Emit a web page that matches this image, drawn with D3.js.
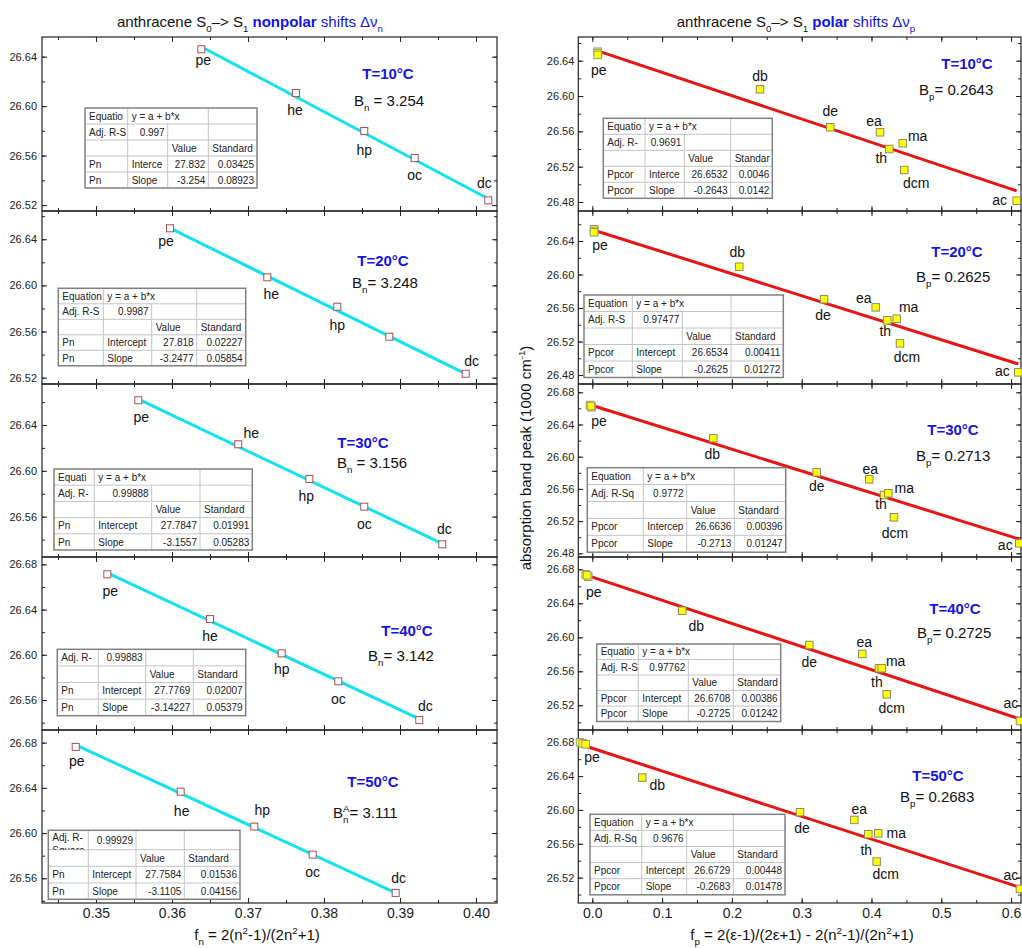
<!DOCTYPE html>
<html>
<head>
<meta charset="utf-8">
<script src="https://cdn.jsdelivr.net/npm/d3@7"></script>
<style>
  body { margin: 0; background: #fff; }
  svg { display: block; }
  text { font-family: "Liberation Sans", Arial, sans-serif; }
</style>
</head>
<body>
<svg id="chart" width="1022" height="948"></svg>
<script>
// ---------- data ----------
const temperatures = ["10", "20", "30", "40", "50"];

// nonpolar solvents (left column)
const nonpolarSolvents = ["pe", "he", "hp", "oc", "dc"];
const fnValues = [
    [0.36386, 0.37632, 0.38530, 0.39193, 0.40162],
    [0.35974, 0.37254, 0.38175, 0.38859, 0.39864],
    [0.35557, 0.36872, 0.37807, 0.38530, 0.39557],
    [0.35149, 0.36500, 0.37443, 0.38188, 0.39254],
    [0.34733, 0.36114, 0.37083, 0.37851, 0.38943]
];
const peakNonpolar = [
    [26.6460, 26.6106, 26.5799, 26.5580, 26.5238],
    [26.6495, 26.6070, 26.5815, 26.5555, 26.5234],
    [26.6616, 26.6232, 26.5929, 26.5687, 26.5359],
    [26.6712, 26.6316, 26.6013, 26.5766, 26.5423],
    [26.6762, 26.6366, 26.6057, 26.5809, 26.5470]
];
const interceptN = [27.832, 27.818, 27.7847, 27.7769, 27.7584];
const slopeN = [-3.254, -3.2477, -3.1557, -3.14227, -3.1105];
const bnText = ["3.254", "3.248", "3.156", "3.142", "3.111"];

// polar solvents (right column)
const polarSolvents = ["db", "de", "ea", "th", "ma", "dcm", "ac"];
const fpValues = [
    [0.2403, 0.3410, 0.4122, 0.4255, 0.4447, 0.4470, 0.6080],
    [0.2106, 0.3320, 0.4060, 0.4226, 0.4361, 0.4408, 0.6103],
    [0.1734, 0.3215, 0.3968, 0.4179, 0.4241, 0.4322, 0.6117],
    [0.1289, 0.3109, 0.3868, 0.4107, 0.4146, 0.4218, 0.6127],
    [0.0716, 0.2976, 0.3754, 0.3954, 0.4097, 0.4074, 0.6127]
];
const peakPolar = [
    [26.6076, 26.5646, 26.5589, 26.5400, 26.5465, 26.5162, 26.4814],
    [26.6093, 26.5704, 26.5608, 26.5453, 26.5472, 26.5178, 26.4832],
    [26.6229, 26.5806, 26.5719, 26.5524, 26.5545, 26.5247, 26.4924],
    [26.6313, 26.5909, 26.5804, 26.5635, 26.5635, 26.5329, 26.5015],
    [26.6382, 26.5973, 26.5882, 26.5713, 26.5724, 26.5389, 26.5066]
];
// nonpolar solvents collapse near fp = 0 (the "pe" cluster)
const fpCluster = [
    [0.0077, 0.0082, 0.0077],
    [0.0024, 0.0030, 0.0024],
    [-0.0033, -0.0009, -0.0020],
    [-0.0095, -0.0057, -0.0075],
    [-0.0176, -0.0138, -0.0095]
];
const peakCluster = [
    [26.6502, 26.6485, 26.6465],
    [26.6540, 26.6520, 26.6504],
    [26.6642, 26.6614, 26.6630],
    [26.6741, 26.6713, 26.6730],
    [26.6800, 26.6788, 26.6776]
];
const interceptP = [26.6532, 26.6534, 26.6636, 26.6708, 26.6729];
const slopeP = [-0.2643, -0.2625, -0.2713, -0.2725, -0.2683];
const bpText = ["0.2643", "0.2625", "0.2713", "0.2725", "0.2683"];

// fit report tables (null = merged with the cell on its left)
const tablesN = [
    [["Equatio", "y = a + b*x", null, ""], ["Adj. R-S", "0.997", "", ""], ["", "", "Value", "Standard"], ["Pn", "Interce", "27.832", "0.03425"], ["Pn", "Slope", "-3.254", "0.08923"]],
    [["Equation", "y = a + b*x", null, ""], ["Adj. R-S", "0.9987", "", ""], ["", "", "Value", "Standard"], ["Pn", "Intercept", "27.818", "0.02227"], ["Pn", "Slope", "-3.2477", "0.05854"]],
    [["Equati", "y = a + b*x", null, ""], ["Adj. R-", "0.99888", "", ""], ["", "", "Value", "Standard"], ["Pn", "Intercept", "27.7847", "0.01991"], ["Pn", "Slope", "-3.1557", "0.05283"]],
    [["Adj. R-", "0.99883", "", ""], ["", "", "Value", "Standard"], ["Pn", "Intercept", "27.7769", "0.02007"], ["Pn", "Slope", "-3.14227", "0.05379"]],
    [["Adj. R-\nSquare", "0.99929", "", ""], ["", "", "Value", "Standard"], ["Pn", "Intercept", "27.7584", "0.01536"], ["Pn", "Slope", "-3.1105", "0.04156"]]
];
const tablesP = [
    [["Equatio", "y = a + b*x", null, ""], ["Adj. R-", "0.9691", "", ""], ["", "", "Value", "Standar"], ["Ppcor", "Interce", "26.6532", "0.0046"], ["Ppcor", "Slope", "-0.2643", "0.0142"]],
    [["Equation", "y = a + b*x", null, ""], ["Adj. R-S", "0.97477", "", ""], ["", "", "Value", "Standard"], ["Ppcor", "Intercept", "26.6534", "0.00411"], ["Ppcor", "Slope", "-0.2625", "0.01272"]],
    [["Equation", "y = a + b*x", null, ""], ["Adj. R-Sq", "0.9772", "", ""], ["", "", "Value", "Standard"], ["Ppcor", "Intercep", "26.6636", "0.00396"], ["Ppcor", "Slope", "-0.2713", "0.01247"]],
    [["Equatio", "y = a + b*x", null, ""], ["Adj. R-S", "0.97762", "", ""], ["", "", "Value", "Standard"], ["Ppcor", "Intercept", "26.6708", "0.00386"], ["Ppcor", "Slope", "-0.2725", "0.01242"]],
    [["Equation", "y = a + b*x", null, ""], ["Adj. R-Sq", "0.9676", "", ""], ["", "", "Value", "Standard"], ["Ppcor", "Intercept", "26.6729", "0.00448"], ["Ppcor", "Slope", "-0.2683", "0.01478"]]
];

// axis ranges
const xDomainN = [0.342895, 0.402763];
const xDomainP = [-0.02006, 0.6142];
const yDomainN = [[26.5152, 26.6559], [26.5145, 26.6645], [26.5248, 26.6758], [26.5335, 26.6865], [26.5381, 26.6912]];
const yDomainP = [[26.4698, 26.6668], [26.4693, 26.6758], [26.4754, 26.6903], [26.4909, 26.6945], [26.4900, 26.6945]];

// ---------- layout ----------
const rowTop = [37, 211, 384, 557, 730];
const rowBottom = [211, 384, 557, 730, 903];
const blue = "#1414e6";

const labelOffN = [
    [[2, 16], [-1, 22], [0, 24], [0, 22], [-4, -12]],
    [[-4, 18], [4, 22], [0, 23], null, [6, -8]],
    [[3, 22], [13, -6], [-3, 22], [0, 22], [2, -10]],
    [[3, 22], [0, 22], [0, 21], [0, 23], [6, -9]],
    [[1, 19], [1, 24], [8, -12], [0, 22], [3, -10]]
];
const labelOffP = [
    [[0, -8], [0, -11], [-6, -6], [-8, 14], [15, -2], [12, 18], [-17, 4]],
    [[-2, -10], [-1, 21], [-12, -4], [-2, 16], [12, -7], [7, 19], [-16, 4]],
    [[-1, 21], [0, 19], [1, -5], [-3, 14], [16, 0], [1, 21], [-14, 7]],
    [[14, 20], [0, 22], [2, -7], [-2, 19], [14, -2], [5, 19], [-9, -13]],
    [[15, 12], [2, 21], [5, -6], [-2, 21], [18, 5], [9, 17], [-9, -9]]
];
const peLabelOff = [[1, 23], [6, 21], [9, 21], [8, 23], [12, 20]];

const annotN = [
    {tx: 388, ty: 79, bx: 354, by: 106}, {tx: 383, ty: 266, bx: 352, by: 288},
    {tx: 363, ty: 448, bx: 337, by: 468}, {tx: 407, ty: 636, bx: 368, by: 661},
    {tx: 373, ty: 787, bx: 333, by: 818}
];
const annotP = [
    {tx: 967, ty: 69, bx: 919, by: 95}, {tx: 957, ty: 257, bx: 916, by: 282},
    {tx: 953, ty: 435, bx: 916, by: 461}, {tx: 955, ty: 614, bx: 917, by: 638},
    {tx: 938, ty: 781, bx: 900, by: 802}
];

const tableBoxN = [
    {x: 85, y: 108, w: [42.7, 40, 40.6, 48.7], h: 16},
    {x: 58.3, y: 288.3, w: [45, 48.4, 45, 49], h: 15.5},
    {x: 54, y: 469, w: [40.3, 57.4, 48.3, 52.3], h: 16.2},
    {x: 57.3, y: 649.3, w: [41, 47.4, 47.6, 52.4], h: 16.6},
    {x: 48.3, y: 830.3, w: [40, 47.7, 48.3, 55.7], h: [19.4, 16.6, 16.7, 16.3]}
];
const tableBoxP = [
    {x: 603.3, y: 118.3, w: [41.7, 39.3, 46.4, 41.6], h: 16},
    {x: 584, y: 295, w: [48.3, 50, 48.7, 52.3], h: 16.5},
    {x: 587.3, y: 467.7, w: [56, 43.4, 47.6, 51.4], h: 16.9},
    {x: 596.7, y: 644, w: [41.6, 50, 45, 47.4], h: 15.5},
    {x: 590, y: 814.3, w: [51.7, 45, 46.6, 51.7], h: 16.1}
];

const svg = d3.select("#chart");
const defs = svg.append("defs");
let clipId = 0;

// rich text with sub/superscripts
function rich(sel, parts, size) {
    let shift = 0;
    parts.forEach(p => {
        const target = p.sub ? size * 0.32 : p.sup ? -size * 0.42 : 0;
        const ts = sel.append("tspan").text(p.t).attr("dy", target - shift);
        if (p.sub || p.sup) ts.attr("font-size", size * 0.65);
        if (p.fill) ts.attr("fill", p.fill);
        if (p.bold) ts.attr("font-weight", "bold");
        if (p.dx) ts.attr("dx", p.dx);
        shift = target;
    });
    return sel;
}

function ticksBetween(lo, hi, step) {
    const out = [];
    for (let k = Math.ceil(lo / step - 1e-9); k * step <= hi + 1e-9; k++) out.push(+(k * step).toFixed(4));
    return out;
}

function drawTable(rows, box) {
    const g = svg.append("g");
    const hs = rows.map((r, j) => Array.isArray(box.h) ? box.h[j] : box.h);
    const colX = [box.x];
    box.w.forEach(w => colX.push(colX[colX.length - 1] + w));
    const rowY = [box.y];
    hs.forEach(h => rowY.push(rowY[rowY.length - 1] + h));
    const W = colX[4] - box.x, H = rowY[rowY.length - 1] - box.y;

    g.append("rect").attr("x", box.x).attr("y", box.y).attr("width", W).attr("height", H)
        .attr("fill", "#fff");

    // inner grid
    rowY.slice(1, -1).forEach(yy => {
        g.append("line").attr("x1", box.x).attr("x2", box.x + W).attr("y1", yy).attr("y2", yy)
            .attr("stroke", "#c4c4c4").attr("stroke-width", 1);
    });
    rows.forEach((r, j) => {
        for (let c = 1; c < 4; c++) {
            if (r[c] === null) continue;
            g.append("line").attr("x1", colX[c]).attr("x2", colX[c]).attr("y1", rowY[j]).attr("y2", rowY[j + 1])
                .attr("stroke", "#c4c4c4").attr("stroke-width", 1);
        }
    });

    // cell texts, each clipped to its cell
    rows.forEach((r, j) => {
        r.forEach((cell, c) => {
            if (!cell) return;
            let c2 = c + 1;
            while (c2 < 4 && r[c2] === null) c2++;
            const x0 = colX[c], x1 = colX[c2], y0 = rowY[j], y1 = rowY[j + 1];
            const id = "cell" + (clipId++);
            defs.append("clipPath").attr("id", id).append("rect")
                .attr("x", x0).attr("y", y0).attr("width", x1 - x0).attr("height", y1 - y0);
            const numeric = /^-?[\d.]+$/.test(cell);
            const lines = cell.split("\n");
            const t = g.append("text").attr("clip-path", `url(#${id})`)
                .attr("font-size", 10).attr("fill", "#222")
                .attr("text-anchor", numeric ? "end" : "start");
            const tx = numeric ? x1 - 3 : x0 + 4;
            if (lines.length === 1) {
                t.attr("x", tx).attr("y", (y0 + y1) / 2 + 3.6).text(cell);
            } else {
                lines.forEach((ln, k) => {
                    t.append("tspan").attr("x", tx).attr("y", y0 + 11 + k * 13).text(ln);
                });
            }
        });
    });

    g.append("rect").attr("x", box.x).attr("y", box.y).attr("width", W).attr("height", H)
        .attr("fill", "none").attr("stroke", "#808080").attr("stroke-width", 1.5);
}

function drawPanel(cfg, i) {
    const x = d3.scaleLinear().domain(cfg.xDomain).range(cfg.xRange);
    const y = d3.scaleLinear().domain(cfg.yDomain[i]).range([rowBottom[i], rowTop[i]]);
    const [xl, xr] = cfg.xRange;
    const top = rowTop[i], bot = rowBottom[i];
    const g = svg.append("g");

    // y ticks, inward on both sides
    const yMajor = ticksBetween(cfg.yDomain[i][0], cfg.yDomain[i][1], 0.04);
    const yMinor = ticksBetween(cfg.yDomain[i][0], cfg.yDomain[i][1], 0.02);
    const yl = g.append("g").attr("transform", `translate(${xl},0)`)
        .call(d3.axisLeft(y).tickValues(yMajor).tickSize(-5).tickSizeOuter(0).tickPadding(cfg.yPad).tickFormat(d3.format(".2f")));
    yl.select(".domain").remove();
    yl.selectAll("text").attr("font-size", 11).attr("fill", "#222");
    [[d3.axisLeft, xl], [d3.axisRight, xr]].forEach(([ax, pos]) => {
        const a = g.append("g").attr("transform", `translate(${pos},0)`)
            .call(ax(y).tickValues(yMinor).tickSize(-3).tickSizeOuter(0).tickFormat(""));
        a.select(".domain").remove();
    });
    const yr = g.append("g").attr("transform", `translate(${xr},0)`)
        .call(d3.axisRight(y).tickValues(yMajor).tickSize(-5).tickSizeOuter(0).tickFormat(""));
    yr.select(".domain").remove();

    // x ticks top and bottom
    const xMajor = ticksBetween(cfg.xDomain[0], cfg.xDomain[1], cfg.xStep);
    const xMinor = ticksBetween(cfg.xDomain[0], cfg.xDomain[1], cfg.xStep / 2);
    [[d3.axisTop, top], [d3.axisBottom, bot]].forEach(([ax, pos]) => {
        const a = g.append("g").attr("transform", `translate(0,${pos})`)
            .call(ax(x).tickValues(xMinor).tickSize(-3).tickSizeOuter(0).tickFormat(""));
        a.select(".domain").remove();
    });
    const xt = g.append("g").attr("transform", `translate(0,${top})`)
        .call(d3.axisTop(x).tickValues(xMajor).tickSize(-5).tickSizeOuter(0).tickFormat(""));
    xt.select(".domain").remove();
    const xb = g.append("g").attr("transform", `translate(0,${bot})`)
        .call(d3.axisBottom(x).tickValues(xMajor).tickSize(-5).tickSizeOuter(0).tickPadding(5)
            .tickFormat(i === 4 ? d3.format(cfg.xFmt) : ""));
    xb.select(".domain").remove();
    xb.selectAll("text").attr("font-size", 14).attr("fill", "#222");
    g.selectAll(".tick line").attr("stroke", "#222");

    // frame
    g.append("rect").attr("x", xl).attr("y", top).attr("width", xr - xl).attr("height", bot - top)
        .attr("fill", "none").attr("stroke", "#222").attr("stroke-width", 1.2);

    // regression line across the data range
    const ext = d3.extent(cfg.allX(i));
    const line = d3.line().x(d => x(d)).y(d => y(cfg.intercept[i] + cfg.slope[i] * d));
    g.append("path").attr("d", line(ext)).attr("fill", "none")
        .attr("stroke", cfg.lineColor).attr("stroke-width", 3);

    cfg.drawPoints(g, x, y, i);

    // annotations
    const an = cfg.annot[i];
    g.append("text").attr("x", an.tx).attr("y", an.ty).attr("text-anchor", "middle")
        .attr("font-size", 15).attr("font-weight", "bold").attr("fill", blue)
        .text(`T=${temperatures[i]}\u00b0C`);
    const bt = g.append("text").attr("x", an.bx).attr("y", an.by).attr("font-size", 15).attr("fill", "#111");
    rich(bt, cfg.bParts(i), 15);

    drawTable(cfg.tables[i], cfg.tableBox[i]);
}

function square(g, px, py, fill, stroke, size) {
    g.append("rect").attr("x", px - size / 2).attr("y", py - size / 2)
        .attr("width", size).attr("height", size)
        .attr("fill", fill).attr("stroke", stroke).attr("stroke-width", 1);
}

function pointLabel(g, px, py, off, txt) {
    g.append("text").attr("x", px + off[0]).attr("y", py + off[1])
        .attr("text-anchor", "middle").attr("font-size", 14).attr("fill", "#111").text(txt);
}

const leftCfg = {
    xDomain: xDomainN, xRange: [42, 497], xStep: 0.01, xFmt: ".2f",
    yDomain: yDomainN, yPad: 5,
    intercept: interceptN, slope: slopeN, lineColor: "#12e2ee",
    allX: i => fnValues[i],
    annot: annotN, tables: tablesN, tableBox: tableBoxN,
    bParts: i => i === 4
        ? [{t: "B"}, {t: "n", sub: true}, {t: "A", sup: true, dx: -5.5}, {t: "= " + bnText[i]}]
        : [{t: "B"}, {t: "n", sub: true}, {t: (i === 1 || i === 3 ? "= " : " = ") + bnText[i]}],
    drawPoints: (g, x, y, i) => {
        nonpolarSolvents.forEach((s, k) => {
            const px = x(fnValues[i][k]), py = y(peakNonpolar[i][k]);
            square(g, px, py, "#fff", "#a65252", 7);
            if (labelOffN[i][k]) pointLabel(g, px, py, labelOffN[i][k], s);
        });
    }
};

const rightCfg = {
    xDomain: xDomainP, xRange: [578.3, 1021], xStep: 0.1, xFmt: ".1f",
    yDomain: yDomainP, yPad: 4,
    intercept: interceptP, slope: slopeP, lineColor: "#e81414",
    allX: i => fpCluster[i].concat(fpValues[i]),
    annot: annotP, tables: tablesP, tableBox: tableBoxP,
    bParts: i => [{t: "B"}, {t: "p", sub: true}, {t: "= " + bpText[i]}],
    drawPoints: (g, x, y, i) => {
        fpCluster[i].forEach((v, k) => {
            square(g, x(v), y(peakCluster[i][k]), "#ffff00", "#9a9a7a", 7.5);
        });
        pointLabel(g, x(fpCluster[i][0]), y(peakCluster[i][0]), peLabelOff[i], "pe");
        polarSolvents.forEach((s, k) => {
            const px = x(fpValues[i][k]), py = y(peakPolar[i][k]);
            square(g, px, py, "#ffff00", "#8a8a6a", 7.5);
            pointLabel(g, px, py, labelOffP[i][k], s);
        });
    }
};

for (let i = 0; i < 5; i++) {
    drawPanel(leftCfg, i);
    drawPanel(rightCfg, i);
}

// titles
rich(svg.append("text").attr("x", 250).attr("y", 27).attr("text-anchor", "middle")
    .attr("font-size", 15).attr("fill", "#111"), [
    {t: "anthracene S"}, {t: "0", sub: true}, {t: "\u2013> S"}, {t: "1", sub: true},
    {t: " nonpolar", bold: true, fill: blue}, {t: " shifts \u0394\u03bd", fill: blue}, {t: "n", sub: true, fill: blue}
], 15);
rich(svg.append("text").attr("x", 796).attr("y", 27).attr("text-anchor", "middle")
    .attr("font-size", 15).attr("fill", "#111"), [
    {t: "anthracene S"}, {t: "0", sub: true}, {t: "\u2013> S"}, {t: "1", sub: true},
    {t: " polar", bold: true, fill: blue}, {t: " shifts \u0394\u03bd", fill: blue}, {t: "p", sub: true, fill: blue}
], 15);

// axis titles
rich(svg.append("text").attr("x", 257).attr("y", 940).attr("text-anchor", "middle")
    .attr("font-size", 15).attr("fill", "#111"), [
    {t: "f"}, {t: "n", sub: true}, {t: " = 2(n"}, {t: "2", sup: true}, {t: "-1)/(2n"}, {t: "2", sup: true}, {t: "+1)"}
], 15);
rich(svg.append("text").attr("x", 802).attr("y", 940).attr("text-anchor", "middle")
    .attr("font-size", 15).attr("fill", "#111"), [
    {t: "f"}, {t: "p", sub: true}, {t: " = 2(\u03b5-1)/(2\u03b5+1) - 2(n"}, {t: "2", sup: true},
    {t: "-1)/(2n"}, {t: "2", sup: true}, {t: "+1)"}
], 15);
rich(svg.append("text").attr("transform", "translate(531,458) rotate(-90)").attr("text-anchor", "middle")
    .attr("font-size", 15).attr("fill", "#111"), [
    {t: "absorption band peak (1000 cm"}, {t: "-1", sup: true}, {t: ")"}
], 15);
</script>
</body>
</html>
